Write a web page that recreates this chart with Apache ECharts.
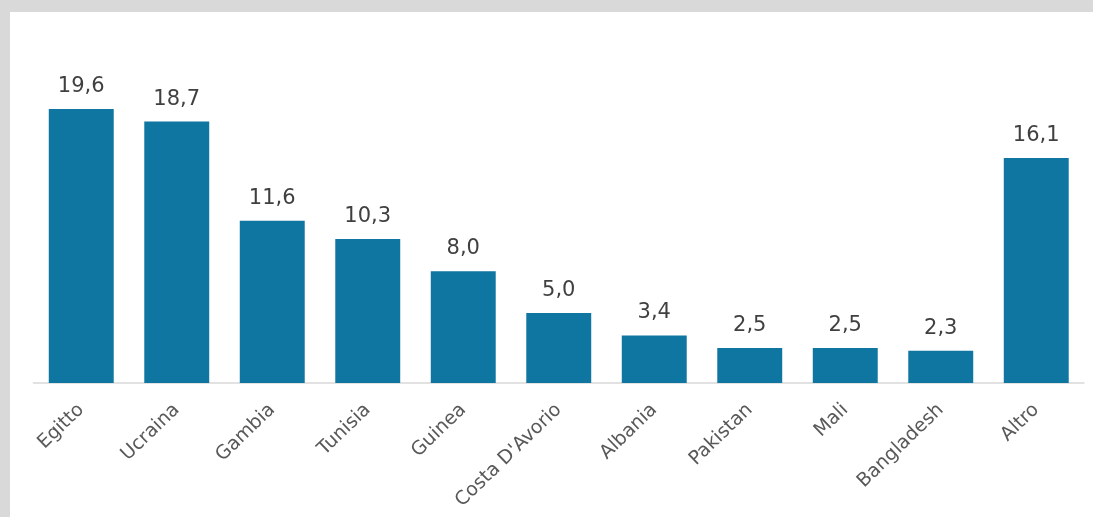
<!DOCTYPE html>
<html>
<head>
<meta charset="utf-8">
<script src="https://cdn.jsdelivr.net/npm/echarts@6/dist/echarts.min.js"></script>
<style>
html,body{margin:0;padding:0;background:#d9d9d9;}
#wrap{position:absolute;left:10px;top:12px;width:1083px;height:505px;background:#ffffff;}
#chart{width:1083px;height:505px;}
</style>
</head>
<body>
<div id="wrap"><div id="chart"></div></div>
<script>
const categories = ["Egitto","Ucraina","Gambia","Tunisia","Guinea","Costa D'Avorio","Albania","Pakistan","Mali","Bangladesh","Altro"];
const values = [19.6, 18.7, 11.6, 10.3, 8.0, 5.0, 3.4, 2.5, 2.5, 2.3, 16.1];

const chart = echarts.init(document.getElementById('chart'), null, {renderer:'canvas'});
chart.setOption({
  animation:false,
  grid:{left:23.5, right:9, top:21.5, bottom:134},
  xAxis:{
    type:'category',
    data:categories,
    axisLine:{show:true, lineStyle:{color:'#d9d9d9', width:1.5}},
    axisTick:{show:false},
    axisLabel:{
      rotate:44, interval:0, margin:24,
      color:'#595959', fontSize:19, fontFamily:'DejaVu Sans'
    }
  },
  yAxis:{
    type:'value', min:0, max:25,
    show:false, splitLine:{show:false}
  },
  series:[{
    type:'bar',
    data:values,
    barCategoryGap:'32%',
    itemStyle:{color:'#0e76a0'},
    label:{
      show:true, position:'top', distance:12,
      color:'#404040', fontSize:21, fontFamily:'DejaVu Sans',
      formatter:p=>p.value.toFixed(1).replace('.', ',')
    }
  }]
});
</script>
</body>
</html>
